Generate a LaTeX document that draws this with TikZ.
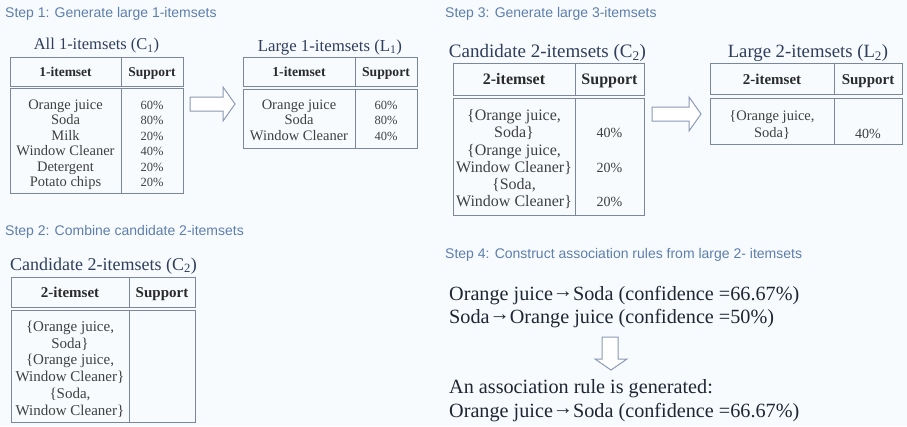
\documentclass[tikz,border=0pt]{standalone}
\usepackage{fontspec}
\setmainfont{Liberation Serif}
\newfontfamily\stepfont{Liberation Sans}
\newcommand\myfs[2]{\fontsize{#1}{#2}\selectfont}
\newcommand\rarr{\raisebox{2.5pt}{→}}
\definecolor{bgcol}{HTML}{F7FBFD}
\definecolor{stepblue}{HTML}{5E7EAE}
\definecolor{titleblue}{HTML}{2F3E5C}
\definecolor{bordergray}{HTML}{7A879C}
\definecolor{bodycol}{HTML}{404040}
\definecolor{hdrcol}{HTML}{2B2B2B}
\definecolor{rulecol}{HTML}{1F2633}
\definecolor{arrowcol}{HTML}{8C9AB8}
\tikzset{
  steptitle/.style={anchor=base west, inner sep=0, text=stepblue, font=\stepfont\myfs{14}{16}},
  tabtitle/.style={inner sep=0, text=titleblue},
  cellbox/.style={draw=bordergray, line width=1pt, inner sep=0},
  hdr/.style={anchor=base, inner sep=0, text=hdrcol},
  rowtxt/.style={anchor=base, inner sep=0, text=bodycol},
  ruletxt/.style={anchor=base west, inner sep=0, text=rulecol, font=\myfs{20.2}{22}, text height=14pt, text depth=4pt},
  blockarrow/.style={draw=arrowcol, fill=white, line width=1pt, line join=miter}
}
\begin{document}
\begin{tikzpicture}[x=1pt,y=-1pt]
\fill[bgcol] (0,0) rectangle (907,426);
\useasboundingbox (0,0) rectangle (907,426);

% step titles
\node[steptitle] (s1) at (5,17) {Step 1: Generate large 1-itemsets};
\node[steptitle] (s3) at (445,17) {Step 3: Generate large 3-itemsets};
\node[steptitle] (s2) at (5,235) {Step 2: Combine candidate 2-itemsets};
\node[steptitle] (s4) at (445,258) {Step 4: Construct association rules from large 2- itemsets};

% ---------- Table 1: C1 ----------
\node[tabtitle, font=\myfs{16.5}{18}] (t1t) at (96.5,46) {All 1-itemsets (C\textsubscript{1})};
\node[cellbox, minimum width=111pt, minimum height=29pt] (t1h1) at (65.5,71.5) {};
\node[cellbox, minimum width=62pt, minimum height=29pt] (t1h2) at (152,71.5) {};
\node[cellbox, minimum width=111pt, minimum height=105pt] (t1b1) at (65.5,140.5) {};
\node[cellbox, minimum width=62pt, minimum height=105pt] (t1b2) at (152,140.5) {};
\node[hdr, font=\bfseries\myfs{13.5}{15}] (t1hx1) at (65.5,76) {1-itemset};
\node[hdr, font=\bfseries\myfs{13.5}{15}] (t1hx2) at (152,76) {Support};
\begin{scope}[every node/.append style={font=\myfs{14.5}{16}}]
\node[rowtxt] (t1a1) at (65.5,109) {Orange juice};
\node[rowtxt] (t1a2) at (65.5,124.5) {Soda};
\node[rowtxt] (t1a3) at (65.5,140) {Milk};
\node[rowtxt] (t1a4) at (65.5,155.5) {Window Cleaner};
\node[rowtxt] (t1a5) at (65.5,171) {Detergent};
\node[rowtxt] (t1a6) at (65.5,186.5) {Potato chips};
\end{scope}
\begin{scope}[every node/.append style={font=\myfs{12.5}{14}}]
\node[rowtxt] (t1b1x) at (152,109) {60\%};
\node[rowtxt] (t1b2x) at (152,124.5) {80\%};
\node[rowtxt] (t1b3x) at (152,140) {20\%};
\node[rowtxt] (t1b4x) at (152,155.5) {40\%};
\node[rowtxt] (t1b5x) at (152,171) {20\%};
\node[rowtxt] (t1b6x) at (152,186.5) {20\%};
\end{scope}

% arrow 1
\draw[blockarrow] (190,97) -- (223,97) -- (223,87) -- (235,104) -- (223,121) -- (223,111) -- (190,111) -- cycle;

% ---------- Table 2: L1 ----------
\node[tabtitle, font=\myfs{16.8}{18}] (t2t) at (330,47) {Large 1-itemsets (L\textsubscript{1})};
\node[cellbox, minimum width=112pt, minimum height=29pt] (t2h1) at (299,71.5) {};
\node[cellbox, minimum width=62pt, minimum height=29pt] (t2h2) at (386,71.5) {};
\node[cellbox, minimum width=112pt, minimum height=59pt] (t2b1) at (299,118.5) {};
\node[cellbox, minimum width=62pt, minimum height=59pt] (t2b2) at (386,118.5) {};
\node[hdr, font=\bfseries\myfs{13.7}{15}] (t2hx1) at (299,76) {1-itemset};
\node[hdr, font=\bfseries\myfs{13.7}{15}] (t2hx2) at (386,76) {Support};
\begin{scope}[every node/.append style={font=\myfs{14.5}{16}}]
\node[rowtxt] (t2a1) at (299,109) {Orange juice};
\node[rowtxt] (t2a2) at (299,124.5) {Soda};
\node[rowtxt] (t2a3) at (299,140) {Window Cleaner};
\end{scope}
\begin{scope}[every node/.append style={font=\myfs{12.5}{14}}]
\node[rowtxt] (t2b1x) at (386,109) {60\%};
\node[rowtxt] (t2b2x) at (386,124.5) {80\%};
\node[rowtxt] (t2b3x) at (386,140) {40\%};
\end{scope}

% ---------- Table 3: C2 (right) ----------
\node[tabtitle, font=\myfs{19}{21}] (t3t) at (547.5,53) {Candidate 2-itemsets (C\textsubscript{2})};
\node[cellbox, minimum width=122pt, minimum height=32pt] (t3h1) at (514,79) {};
\node[cellbox, minimum width=69pt, minimum height=32pt] (t3h2) at (609.5,79) {};
\node[cellbox, minimum width=122pt, minimum height=117pt] (t3b1) at (514,156.5) {};
\node[cellbox, minimum width=69pt, minimum height=117pt] (t3b2) at (609.5,156.5) {};
\node[hdr, font=\bfseries\myfs{16}{18}] (t3hx1) at (514,84.5) {2-itemset};
\node[hdr, font=\bfseries\myfs{16}{18}] (t3hx2) at (609.5,84.5) {Support};
\begin{scope}[every node/.append style={font=\myfs{16}{18}}]
\node[rowtxt] (t3a1) at (514,120.5) {\{Orange juice,};
\node[rowtxt] (t3a2) at (514,137.5) {Soda\}};
\node[rowtxt] (t3a3) at (514,155) {\{Orange juice,};
\node[rowtxt] (t3a4) at (514,172.5) {Window Cleaner\}};
\node[rowtxt] (t3a5) at (514,189.5) {\{Soda,};
\node[rowtxt] (t3a6) at (514,206.5) {Window Cleaner\}};
\end{scope}
\begin{scope}[every node/.append style={font=\myfs{14}{16}}]
\node[rowtxt] (t3b2x) at (609.5,137.5) {40\%};
\node[rowtxt] (t3b4x) at (609.5,172.5) {20\%};
\node[rowtxt] (t3b6x) at (609.5,206.5) {20\%};
\end{scope}

% arrow 2
\draw[blockarrow] (652,107) -- (689,107) -- (689,97) -- (701,114) -- (689,131) -- (689,121) -- (652,121) -- cycle;

% ---------- Table 4: L2 ----------
\node[tabtitle, font=\myfs{18.7}{20}] (t4t) at (808,53) {Large 2-itemsets (L\textsubscript{2})};
\node[cellbox, minimum width=124pt, minimum height=31pt] (t4h1) at (772,78.5) {};
\node[cellbox, minimum width=68pt, minimum height=31pt] (t4h2) at (868,78.5) {};
\node[cellbox, minimum width=124pt, minimum height=46pt] (t4b1) at (772,121) {};
\node[cellbox, minimum width=68pt, minimum height=46pt] (t4b2) at (868,121) {};
\node[hdr, font=\bfseries\myfs{15}{17}] (t4hx1) at (772,84) {2-itemset};
\node[hdr, font=\bfseries\myfs{15}{17}] (t4hx2) at (868,84) {Support};
\begin{scope}[every node/.append style={font=\myfs{14.5}{16}}]
\node[rowtxt] (t4a1) at (772,120.5) {\{Orange juice,};
\node[rowtxt] (t4a2) at (772,137) {Soda\}};
\end{scope}
\node[rowtxt, font=\myfs{14}{16}] (t4b1x) at (868,138) {40\%};

% ---------- Table 5: C2 (left) ----------
\node[tabtitle, font=\myfs{18}{20}] (t5t) at (103.5,266) {Candidate 2-itemsets (C\textsubscript{2})};
\node[cellbox, minimum width=118pt, minimum height=30pt] (t5h1) at (70,292) {};
\node[cellbox, minimum width=66pt, minimum height=30pt] (t5h2) at (162,292) {};
\node[cellbox, minimum width=118pt, minimum height=112pt] (t5b1) at (70,366) {};
\node[cellbox, minimum width=66pt, minimum height=112pt] (t5b2) at (162,366) {};
\node[hdr, font=\bfseries\myfs{15}{17}] (t5hx1) at (70,297) {2-itemset};
\node[hdr, font=\bfseries\myfs{15}{17}] (t5hx2) at (162,297) {Support};
\begin{scope}[every node/.append style={font=\myfs{15}{17}}]
\node[rowtxt] (t5a1) at (70,331) {\{Orange juice,};
\node[rowtxt] (t5a2) at (70,348) {Soda\}};
\node[rowtxt] (t5a3) at (70,364.5) {\{Orange juice,};
\node[rowtxt] (t5a4) at (70,381.5) {Window Cleaner\}};
\node[rowtxt] (t5a5) at (70,398) {\{Soda,};
\node[rowtxt] (t5a6) at (70,415) {Window Cleaner\}};
\end{scope}

% ---------- Step 4 rules ----------
\node[ruletxt] (r1) at (449,300) {Orange juice\rarr Soda (confidence =66.67\%)};
\node[ruletxt] (r2) at (449,323) {Soda\rarr Orange juice (confidence =50\%)};
\draw[blockarrow] (602,337) -- (618,337) -- (618,359) -- (627,359) -- (611,370) -- (595,359) -- (602,359) -- cycle;
\node[ruletxt] (r3) at (449,393) {An association rule is generated:};
\node[ruletxt] (r4) at (449,417) {Orange juice\rarr Soda (confidence =66.67\%)};
\end{tikzpicture}
\end{document}
